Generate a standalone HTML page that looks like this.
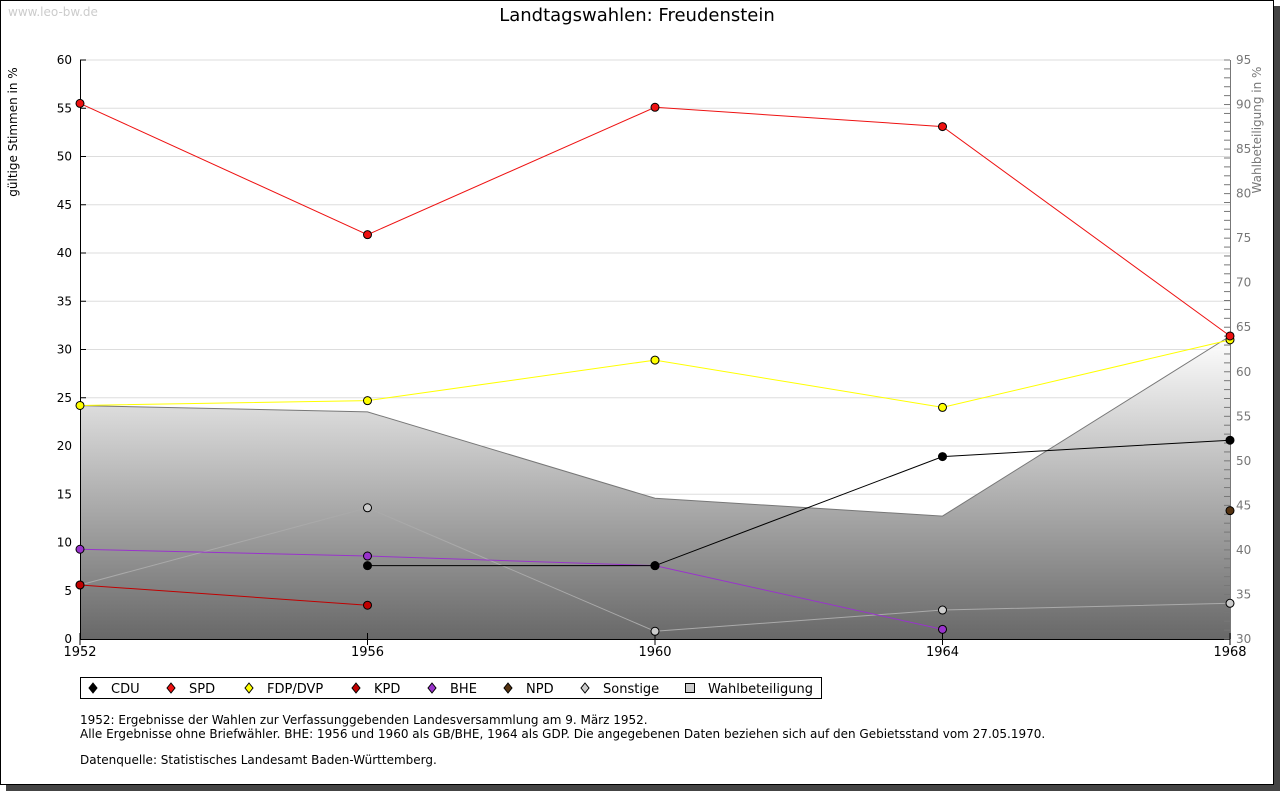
<!DOCTYPE html>
<html><head><meta charset="utf-8"><style>
body{margin:0;background:#fff;font-family:"Liberation Sans","DejaVu Sans",sans-serif}
svg text{font-family:"DejaVu Sans","Liberation Sans",sans-serif}
</style></head><body>
<svg id="c" width="1280" height="791" xmlns="http://www.w3.org/2000/svg">
<defs><linearGradient id="g" x1="0" y1="0" x2="0" y2="1"><stop offset="0" stop-color="#ffffff"/><stop offset="1" stop-color="#686868"/></linearGradient></defs>
<rect x="6" y="6" width="1274" height="785" fill="#444"/>
<rect x="0.5" y="0.5" width="1273" height="784" fill="#fff" stroke="#000"/>
<text x="8" y="16" font-size="12" fill="#ccc">www.leo-bw.de</text>
<text x="637" y="21" font-size="18" text-anchor="middle" fill="#000">Landtagswahlen: Freudenstein</text>
<text transform="translate(17,132) rotate(-90)" font-size="12" text-anchor="middle">gültige Stimmen in %</text>
<text transform="translate(1261,130) rotate(-90)" font-size="12" fill="#777" text-anchor="middle">Wahlbeteiligung in %</text>
<g id="plot"></g>
<g>
<rect x="80.5" y="677.5" width="741" height="21" fill="#fff" stroke="#000"/>
<g id="leg"></g>
</g>
<text x="80" y="724" font-size="12">1952: Ergebnisse der Wahlen zur Verfassunggebenden Landesversammlung am 9. März 1952.</text>
<text x="80" y="738" font-size="12">Alle Ergebnisse ohne Briefwähler. BHE: 1956 und 1960 als GB/BHE, 1964 als GDP. Die angegebenen Daten beziehen sich auf den Gebietsstand vom 27.05.1970.</text>
<text x="80" y="764" font-size="12">Datenquelle: Statistisches Landesamt Baden-Württemberg.</text>
</svg>
<script>
const years=[1952,1956,1960,1964,1968];
const cdu=[null,7.6,7.6,18.9,20.6];
const spd=[55.5,41.9,55.1,53.1,31.4];
const fdp=[24.2,24.7,28.9,24.0,31.0];
const kpd=[5.6,3.5,null,null,null];
const bhe=[9.3,8.6,7.6,1.0,null];
const npd=[null,null,null,null,13.3];
const sonst=[5.6,13.6,0.8,3.0,3.7];
const turnout=[56.2,55.5,45.8,43.8,64.0];
const leftTicks=[0,5,10,15,20,25,30,35,40,45,50,55,60];
const rightTicks=[30,35,40,45,50,55,60,65,70,75,80,85,90,95];
const NS='http://www.w3.org/2000/svg';
const X=y=>80+(y-1952)/(1968-1952)*1150;
const YL=v=>639-v/60*579;
const YR=v=>639-(v-30)/65*579;
const plot=document.getElementById('plot');
function el(t,a,p){const e=document.createElementNS(NS,t);for(const k in a)e.setAttribute(k,a[k]);(p||plot).appendChild(e);return e;}
leftTicks.forEach(v=>{
 if(v>0){const l=el('line',{x1:80,x2:1230,y1:YL(v),y2:YL(v),stroke:'#ddd'});
 
 }
 const t=el('text',{x:72,y:YL(v)+4,'font-size':12,'text-anchor':'end'});t.textContent=v;
 
 
 el('line',{x1:80,x2:86,y1:YL(v),y2:YL(v),stroke:'#000'});
});
// area
let d='M'+X(years[0])+','+YR(30);
years.forEach((y,i)=>d+=' L'+X(y)+','+YR(turnout[i]));
d+=' L'+X(years[4])+','+YR(30)+' Z';
const a=el('path',{d:d,fill:'url(#g)',stroke:'none'});


const al=el('polyline',{points:years.map((y,i)=>X(y)+','+YR(turnout[i])).join(' '),fill:'none',stroke:'#777'});


// axes
el('line',{x1:80.5,x2:80.5,y1:60,y2:639,stroke:'#000'});
el('line',{x1:80,x2:1230,y1:639.5,y2:639.5,stroke:'#000'});
el('line',{x1:1230.5,x2:1230.5,y1:60,y2:639,stroke:'#777'});
for(let v=30;v<=95;v++){el('line',{x1:1224,x2:1230,y1:YR(v),y2:YR(v),stroke:'#777'});}
rightTicks.forEach(v=>{const t=el('text',{x:1236,y:YR(v)+4,'font-size':12,fill:'#777'});t.textContent=v;
 
 });
years.forEach(y=>{el('line',{x1:X(y),x2:X(y),y1:633,y2:645,stroke:'#000'});
 const t=el('text',{x:X(y),y:656,'font-size':13,'text-anchor':'middle'});t.textContent=y;
 
 });
const series=[['sonstige',sonst,'#ccc','#aaa'],['kpd',kpd,'#c00000','#c00000'],['bhe',bhe,'#9933cc','#9933cc'],['cdu',cdu,'#000','#000'],['fdp',fdp,'#ffff00','#ffff00'],['spd',spd,'#ee1111','#ee1111'],['npd',npd,'#553311','#553311']];
series.forEach(([n,vals,fill,line])=>{
 const g=el('g',{});
 
 
 let pts=[];years.forEach((y,i)=>{if(vals[i]!=null)pts.push(X(y)+','+YL(vals[i]));});
 if(pts.length>1)el('polyline',{points:pts.join(' '),fill:'none',stroke:line},g);
 years.forEach((y,i)=>{if(vals[i]==null)return;
  const c=el('circle',{cx:X(y),cy:YL(vals[i]),r:4,fill:fill,stroke:'#000'},g);
  
  });
});
const leg=document.getElementById('leg');
const items=[['CDU','#000',93],['SPD','#ee1111',171],['FDP/DVP','#ffff00',249],['KPD','#c00000',356],['BHE','#9933cc',432],['NPD','#553311',508],['Sonstige','#ccc',585],['Wahlbeteiligung',null,690]];
items.forEach(([lab,col,x])=>{
 const g=el('g',{},leg);
 
 
 if(col)el('path',{d:`M${x},683 L${x+4},688 L${x},693 L${x-4},688 Z`,fill:col,stroke:'#000'},g);
 else el('rect',{x:x-4.5,y:683.5,width:9,height:9,fill:'#ccc',stroke:'#000'},g);
 const t=el('text',{x:x+18,y:693,'font-size':13},g);t.textContent=lab;
});
</script>
</body></html>
